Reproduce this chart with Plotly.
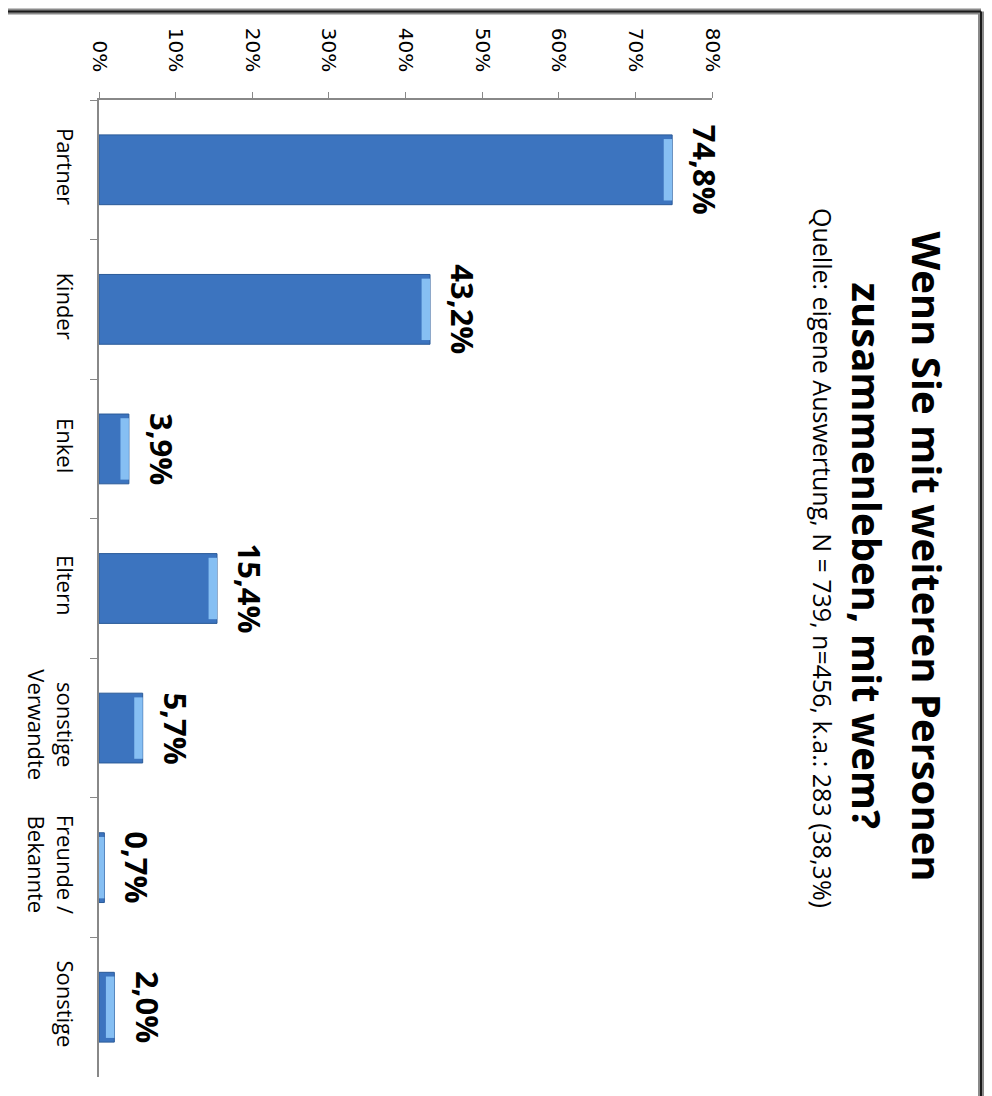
import plotly.graph_objects as go

categories = ["Partner", "Kinder", "Enkel", "Eltern", "sonstige<br>Verwandte", "Freunde /<br>Bekannte", "Sonstige"]
values = [74.8, 43.2, 3.9, 15.4, 5.7, 0.7, 2.0]
value_labels = ["74,8%", "43,2%", "3,9%", "15,4%", "5,7%", "0,7%", "2,0%"]
tick_vals = [0, 10, 20, 30, 40, 50, 60, 70, 80]
tick_text = ["0%", "10%", "20%", "30%", "40%", "50%", "60%", "70%", "80%"]
title_lines = ["Wenn Sie mit weiteren Personen", "zusammenleben, mit wem?"]
subtitle = "Quelle: eigene Auswertung, N = 739, n=456, k.a.: 283 (38,3%)"

OFF = 8  # page body margin
W, H = 992 - OFF, 1096 - OFF
# plot area in page coordinates
PL, PR, PT, PB = 99, 712, 100, 1077
L, R, T, B = PL - OFF, PR - OFF, PT - OFF, PB - OFF

def px(x):  # page x -> paper
    return (x - OFF - L) / (R - L)

def py(y):  # page y -> paper
    return (B - (y - OFF)) / (B - T)

fig = go.Figure()
fig.add_trace(go.Bar(
    x=values, y=categories, orientation="h", width=0.5,
    marker=dict(color="#3c74bf", line=dict(color="#2a5a98", width=1)),
    hoverinfo="skip",
))
# light bevel at bar ends
cap = [min(v, 1.1) for v in values]
fig.add_trace(go.Bar(
    x=cap, base=[v - c for v, c in zip(values, cap)], y=categories,
    orientation="h", width=0.44,
    marker=dict(color="#86bff3", line=dict(width=0)),
    hoverinfo="skip",
))

for v, c, t in zip(values, categories, value_labels):
    fig.add_annotation(x=v, y=c, xref="x", yref="y", text=f"<b>{t}</b>",
                       textangle=90, showarrow=False, xanchor="left", xshift=10,
                       font=dict(family="Open Sans", size=31, color="black"))

# title (rotated)
fig.add_annotation(x=px(957), y=py(556), xref="paper", yref="paper",
                   text=f"<b>{title_lines[0]}</b>", textangle=90, showarrow=False,
                   font=dict(family="Open Sans", size=40, color="black"))
fig.add_annotation(x=px(897), y=py(556), xref="paper", yref="paper",
                   text=f"<b>{title_lines[1]}</b>", textangle=90, showarrow=False,
                   font=dict(family="Open Sans", size=40, color="black"))
fig.add_annotation(x=px(842), y=py(558), xref="paper", yref="paper",
                   text=subtitle, textangle=90, showarrow=False,
                   font=dict(family="Open Sans", size=25, color="black"))

# frame
for col, w in (("#8a8a8a", 6), ("#1a1a1a", 2)):
    fig.add_shape(type="line", xref="paper", yref="paper",
                  x0=px(0), x1=px(981), y0=py(11.5), y1=py(11.5),
                  line=dict(color=col, width=w))
    fig.add_shape(type="line", xref="paper", yref="paper",
                  x0=px(981), x1=px(981), y0=py(11.5), y1=py(1100),
                  line=dict(color=col, width=w))

fig.update_layout(
    width=W, height=H,
    margin=dict(l=L, r=W - R, t=T, b=H - B, autoexpand=False),
    paper_bgcolor="white", plot_bgcolor="white",
    showlegend=False, barmode="overlay",
    xaxis=dict(range=[0, 80], side="top", tickvals=tick_vals, ticktext=tick_text,
               tickangle=90, ticks="outside", ticklen=6, tickcolor="#888",
               showline=True, linecolor="#888", linewidth=1.5, showgrid=False,
               zeroline=False, ticklabelstandoff=13, automargin=False,
               tickfont=dict(family="DejaVu Sans", size=20, color="black")),
    yaxis=dict(categoryorder="array", categoryarray=categories, autorange="reversed",
               tickangle=90, ticks="outside", ticklen=7, tickcolor="#888",
               tickson="boundaries", showline=True, linecolor="#888", linewidth=1.5,
               showgrid=False, ticklabelstandoff=14, automargin=False,
               tickfont=dict(family="Open Sans", size=22, color="black")),
)

fig.write_html("out.html")
